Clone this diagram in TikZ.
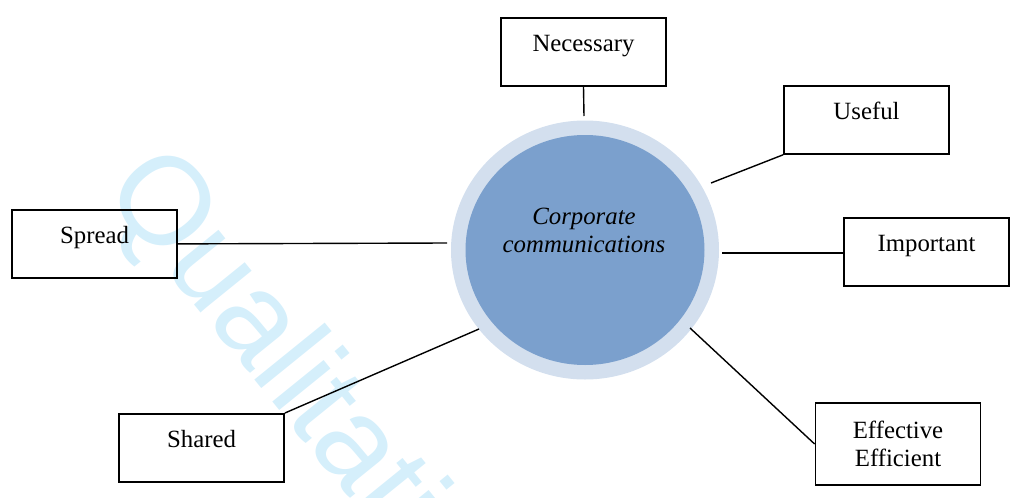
\documentclass[tikz,border=0pt]{standalone}
\usepackage{fontspec}
\setmainfont{Liberation Serif}
\newfontfamily\markfont{Liberation Sans}
\usetikzlibrary{positioning,shapes.geometric,calc}
\definecolor{corefill}{RGB}{123,160,205}
\definecolor{corering}{RGB}{211,223,238}
\definecolor{markcyan}{RGB}{213,239,251}

\begin{document}
\begin{tikzpicture}[
         x=0.5pt, y=-0.5pt,
         every node/.style = {font=\fontsize{12.4}{14}\selectfont},
         box/.style = {draw, line width=0.9pt, minimum width=82.5pt, inner sep=0pt},
         attr/.style = {box, anchor=north, text height=16.75pt, text depth=17.25pt},
         spoke/.style = {line width=0.7pt}
]
   \useasboundingbox (0,0) rectangle (1013,498);

   % background mark
   \begin{scope}
      \clip (0,0) rectangle (1013,498);
      \node[markcyan, font=\markfont\fontsize{62.5}{62.5}\selectfont, rotate=-51,
         anchor=base west, inner sep=0pt] (mark) at (101,190) {Qualitative};
   \end{scope}

   % centre disc
   \node[ellipse, fill=corering, minimum width=134pt, minimum height=129.5pt,
      inner sep=0pt] (ring) at (585,250) {};
   \node[ellipse, fill=corefill, minimum width=119.5pt, minimum height=115pt,
      inner sep=0pt] (core) at (ring.center) {};
   \node[align=center, font=\fontsize{12.4}{14}\selectfont\itshape]
      (title) at (584,230) {Corporate\\communications};

   % attributes
   \node[attr] (necessary) at (583.5,17)  {Necessary};
   \node[attr] (useful)    at (866.5,85)  {Useful};
   \node[attr] (important) at (926.5,217) {Important};
   \node[attr] (spread)    at (94.5,209)  {Spread};
   \node[attr] (shared)    at (201.5,413) {Shared};
   \node[box, minimum height=41pt, align=center]
      (effective) at (898,444) {Effective\\Efficient};

   % spoke ends near the ring
   \coordinate (tn)  at (584,116);
   \coordinate (tu)  at (711,183);
   \coordinate (ti)  at (722,253);
   \coordinate (tsp) at (447,243);
   \coordinate (tsh) at (479,329);
   \coordinate (te)  at (690,328);

   \draw[spoke] (necessary.south) -- (tn);
   \draw[spoke] (useful.south west) -- (tu);
   \draw[spoke] (ti) -- (ti -| important.west);
   \draw[spoke] (spread.east) -- (tsp);
   \draw[spoke] (shared.north east) -- (tsh);
   \draw[spoke] (effective.west) -- (te);
\end{tikzpicture}
\end{document}
